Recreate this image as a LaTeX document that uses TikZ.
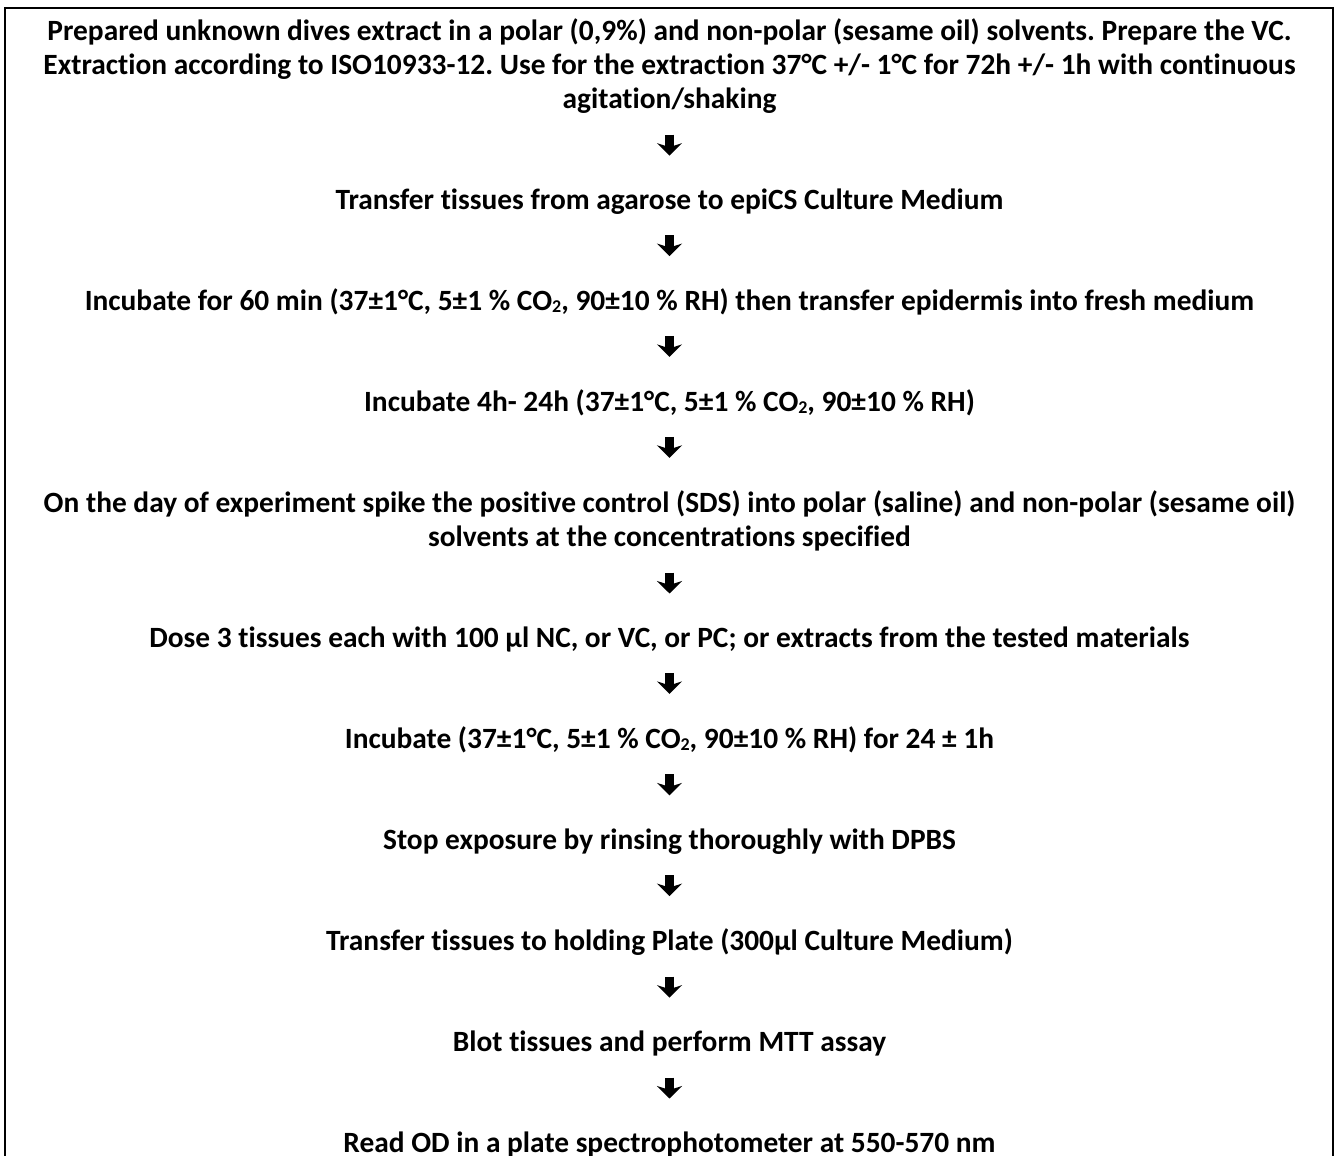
\documentclass[tikz,border=0pt]{standalone}
\usepackage{fontspec}
\setmainfont{Carlito}[Ligatures={NoCommon}]
\usetikzlibrary{arrows.meta,calc}
\frenchspacing
\newcommand{\subtwo}{\raisebox{-0.1em}{\fontsize{18}{18}\selectfont 2}}
\begin{document}
\begin{tikzpicture}[x=1pt,y=-1pt,
  stepnode/.style={inner sep=0pt, align=center, font=\fontsize{29.4}{34}\selectfont\bfseries\frenchspacing, anchor=base},
  bigarrow/.style={line width=8.5pt, -{Stealth[length=12.5pt,width=25pt,inset=4pt]}},
  frame/.style={line width=2pt}
]
\useasboundingbox (0,0) rectangle (1336,1156);
\draw[frame] (5,1156) -- (5,8) -- (1333,8) -- (1333,1156);
\node[stepnode] (s1) at (669.5,108) {Prepared unknown dives extract in a polar (0,9\%) and non-polar (sesame oil) solvents. Prepare the VC.\\Extraction according to ISO10933-12. Use for the extraction 37°C +/- 1°C for 72h +/- 1h with continuous\\agitation/shaking};
\node[stepnode] (s2) at (669.5,209) {Transfer tissues from agarose to epiCS Culture Medium};
\node[stepnode] (s3) at (669.5,310) {Incubate for 60 min (37±1°C, 5±1 \% CO\subtwo, 90±10 \% RH) then transfer epidermis into fresh medium};
\node[stepnode] (s4) at (669.5,411) {Incubate 4h- 24h (37±1°C, 5±1 \% CO\subtwo, 90±10 \% RH)};
\node[stepnode] (s5) at (669.5,546) {On the day of experiment spike the positive control (SDS) into polar (saline) and non-polar (sesame oil)\\solvents at the concentrations specified};
\node[stepnode] (s6) at (669.5,647) {Dose 3 tissues each with 100 µl NC, or VC, or PC; or extracts from the tested materials};
\node[stepnode] (s7) at (669.5,748) {Incubate (37±1°C, 5±1 \% CO\subtwo, 90±10 \% RH) for 24 ± 1h};
\node[stepnode] (s8) at (669.5,849) {Stop exposure by rinsing thoroughly with DPBS};
\node[stepnode] (s9) at (669.5,950) {Transfer tissues to holding Plate (300µl Culture Medium)};
\node[stepnode] (s10) at (669.5,1051) {Blot tissues and perform MTT assay};
\node[stepnode] (s11) at (669.5,1152) {Read OD in a plate spectrophotometer at 550-570 nm};
\foreach \a/\b in {s1/s2,s2/s3,s3/s4,s4/s5,s5/s6,s6/s7,s7/s8,s8/s9,s9/s10,s10/s11}
  \draw[bigarrow] ($(\a.south)!0.5!(\b.north)+(0,-16)$) -- ($(\a.south)!0.5!(\b.north)+(0,5)$);
\end{tikzpicture}
\end{document}
